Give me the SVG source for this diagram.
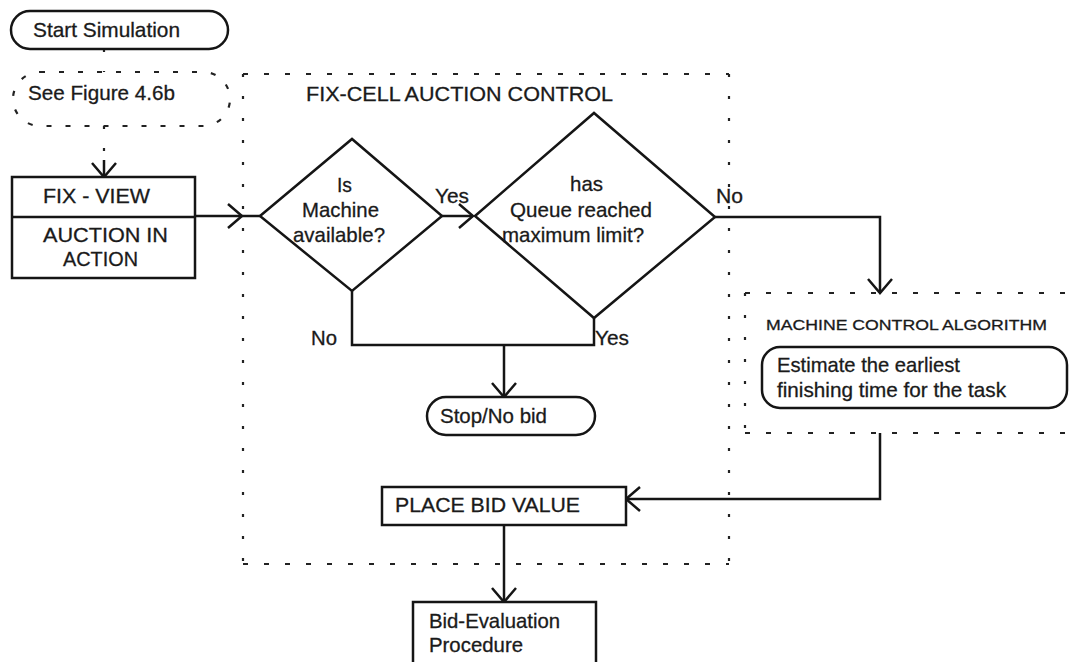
<svg xmlns="http://www.w3.org/2000/svg" width="1073" height="662" viewBox="0 0 1073 662">
<defs>
<style>
.s{fill:none;stroke:#151515;stroke-width:2.5}
.n{fill:#fff;stroke:#151515;stroke-width:2.5}
.dh{fill:none;stroke:#222;stroke-width:2.2;stroke-dasharray:5 16}
.dv{fill:none;stroke:#222;stroke-width:2.2;stroke-dasharray:3 19}
.t{font-family:"Liberation Sans",Arial,sans-serif;font-size:21px;fill:#1a1a1a;stroke:#1a1a1a;stroke-width:0.3}
.sm{font-size:15px}
</style>
<marker id="ah" markerUnits="userSpaceOnUse" markerWidth="32" markerHeight="32" refX="0" refY="0" viewBox="-16 -16 32 32" orient="auto">
<path d="M-14,-12 L0,0 L-14,12" fill="none" stroke="#151515" stroke-width="2.5"/>
</marker>
</defs>
<rect width="1073" height="662" fill="#fff"/>

<g id="containers">
<path class="dh" d="M243,74 H729 M243,564 H729"/>
<path class="dv" d="M243,74 V564 M729,74 V564"/>
<path class="dh" d="M745,293 H1073 M745,433 H1073"/>
<path class="dv" d="M745,293 V433"/>
<text class="t" x="306" y="101" textLength="307" lengthAdjust="spacingAndGlyphs">FIX-CELL AUCTION CONTROL</text>
<text class="t sm" x="766" y="330" textLength="281" lengthAdjust="spacingAndGlyphs">MACHINE CONTROL ALGORITHM</text>
</g>

<g id="connectors">
<path class="dv" d="M104,49 V72"/>
<path class="dv" d="M104,126 V160"/>
<path class="s" d="M104,160 V177" marker-end="url(#ah)"/>
<path class="s" d="M195,216 H242" marker-end="url(#ah)"/>
<path class="s" d="M242,216 H260"/>
<path class="s" d="M442,216 H473" marker-end="url(#ah)"/>
<path class="s" d="M715,217 H880 V293" marker-end="url(#ah)"/>
<path class="s" d="M352,291 V345 H594 V318"/>
<path class="s" d="M504,345 V397" marker-end="url(#ah)"/>
<path class="s" d="M880,433 V499 H626" marker-end="url(#ah)"/>
<path class="s" d="M504,525 V602" marker-end="url(#ah)"/>
<text class="t" x="435" y="203" textLength="34" lengthAdjust="spacingAndGlyphs">Yes</text>
<text class="t" x="716" y="203" textLength="27" lengthAdjust="spacingAndGlyphs">No</text>
<text class="t" x="311" y="345" textLength="26" lengthAdjust="spacingAndGlyphs">No</text>
<text class="t" x="595" y="345" textLength="34" lengthAdjust="spacingAndGlyphs">Yes</text>
</g>

<g id="start">
<rect class="n" x="11" y="11" width="217" height="38" rx="19"/>
<text class="t" x="33" y="37" textLength="147" lengthAdjust="spacingAndGlyphs">Start Simulation</text>
</g>

<g id="see-figure">
<rect x="13" y="72" width="217" height="54" rx="27" fill="none" stroke="#222" stroke-width="2.2" stroke-dasharray="5 14"/>
<text class="t" x="28" y="100" textLength="147" lengthAdjust="spacingAndGlyphs">See Figure 4.6b</text>
</g>

<g id="fix-view">
<rect class="n" x="12" y="177" width="183" height="101"/>
<path class="s" d="M12,217 H195"/>
<text class="t" x="43" y="203" textLength="107" lengthAdjust="spacingAndGlyphs">FIX - VIEW</text>
<text class="t" x="43" y="242" textLength="125" lengthAdjust="spacingAndGlyphs">AUCTION IN</text>
<text class="t" x="63" y="266" textLength="75" lengthAdjust="spacingAndGlyphs">ACTION</text>
</g>

<g id="machine-available">
<path class="n" d="M260,216 L352,139 L442,216 L352,291 Z"/>
<text class="t" x="337" y="192" textLength="15" lengthAdjust="spacingAndGlyphs">Is</text>
<text class="t" x="302" y="217" textLength="77" lengthAdjust="spacingAndGlyphs">Machine</text>
<text class="t" x="293" y="242" textLength="92" lengthAdjust="spacingAndGlyphs">available?</text>
</g>

<g id="queue-limit">
<path class="n" d="M475,216 L594,113 L715,217 L594,318 Z"/>
<text class="t" x="570" y="191" textLength="33" lengthAdjust="spacingAndGlyphs">has</text>
<text class="t" x="510" y="217" textLength="142" lengthAdjust="spacingAndGlyphs">Queue reached</text>
<text class="t" x="502" y="242" textLength="142" lengthAdjust="spacingAndGlyphs">maximum limit?</text>
</g>

<g id="stop">
<rect class="n" x="427" y="397" width="168" height="38" rx="19"/>
<text class="t" x="440" y="423" textLength="107" lengthAdjust="spacingAndGlyphs">Stop/No bid</text>
</g>

<g id="estimate">
<rect class="n" x="762" y="347" width="305" height="61" rx="18"/>
<text class="t" x="777" y="372" textLength="183" lengthAdjust="spacingAndGlyphs">Estimate the earliest</text>
<text class="t" x="777" y="397" textLength="229" lengthAdjust="spacingAndGlyphs">finishing time for the task</text>
</g>

<g id="place-bid">
<rect class="n" x="382" y="487" width="244" height="38"/>
<text class="t" x="395" y="512" textLength="185" lengthAdjust="spacingAndGlyphs">PLACE BID VALUE</text>
</g>

<g id="bid-evaluation">
<rect class="n" x="413" y="602" width="183" height="80"/>
<text class="t" x="429" y="628" textLength="131" lengthAdjust="spacingAndGlyphs">Bid-Evaluation</text>
<text class="t" x="429" y="652" textLength="94" lengthAdjust="spacingAndGlyphs">Procedure</text>
</g>
</svg>
